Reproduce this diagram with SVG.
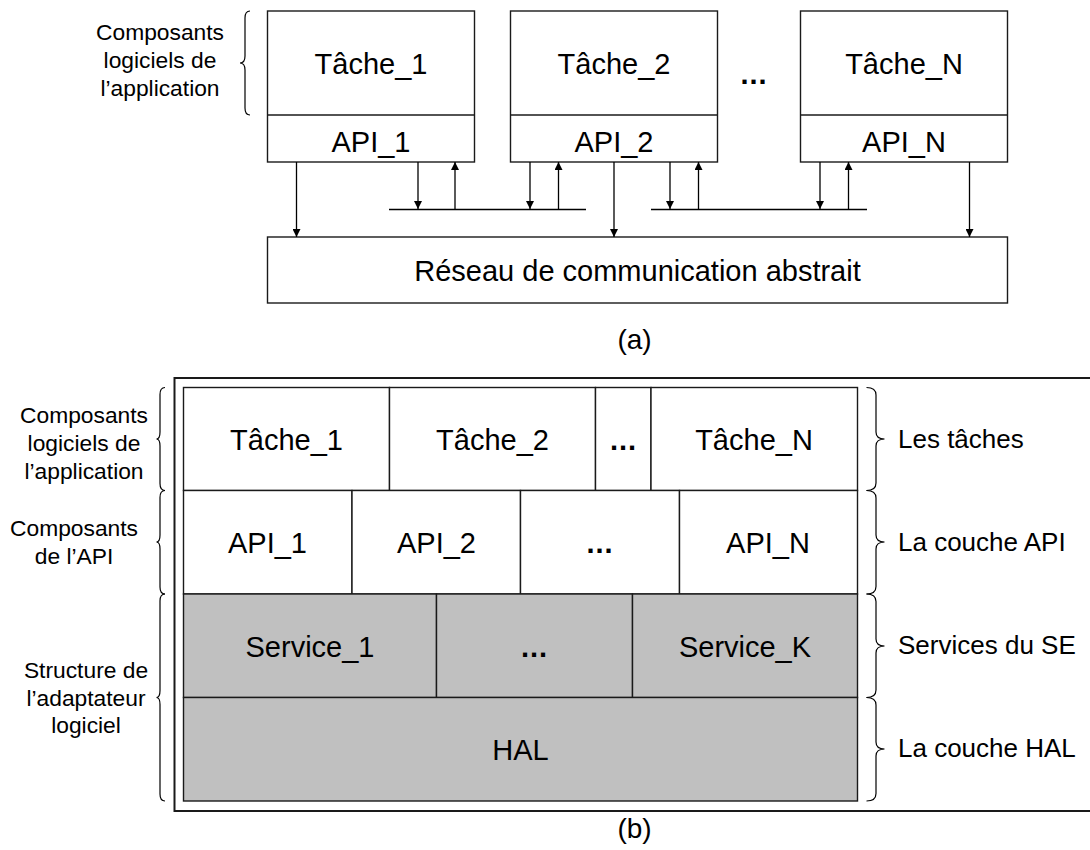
<svg xmlns="http://www.w3.org/2000/svg" width="1090" height="850" viewBox="0 0 1090 850">
<style>
text{font-family:"Liberation Sans",Arial,sans-serif;fill:#000}
.cell{fill:#fff;stroke:#1a1a1a;stroke-width:1.4}
.gray{fill:#c0c0c0;stroke:#1a1a1a;stroke-width:1.4}
.t{font-size:29px;text-anchor:middle}
.dots{font-size:29px;font-weight:bold;text-anchor:middle;letter-spacing:1px}
.lbl{font-size:22.8px;text-anchor:middle}
.rl{font-size:26px}
.cap{font-size:28px;text-anchor:middle}
.conn{stroke:#000;stroke-width:1.3;fill:none}
.brace{stroke:#000;stroke-width:1.2;fill:none}
</style>
<defs>
<marker id="ah" viewBox="0 0 10 10" refX="10" refY="5" markerWidth="9" markerHeight="8" markerUnits="userSpaceOnUse" orient="auto">
<path d="M0,0 L10,5 L0,10 Z" fill="#000"/>
</marker>
</defs>

<!-- Part (a) -->
<g id="a-label">
<text class="lbl" x="160" y="40">Composants</text>
<text class="lbl" x="160" y="68">logiciels de</text>
<text class="lbl" x="160" y="96">l’application</text>
<path class="brace" d="M250,11 Q245,11 245,18 L245,56 Q245,63 240,63 Q245,63 245,70 L245,108 Q245,115 250,115"/>
</g>
<g id="a-task1">
<rect class="cell" x="267.5" y="11" width="207" height="151"/>
<line x1="267.5" y1="115" x2="474.5" y2="115" stroke="#1a1a1a" stroke-width="1.4"/>
<text class="t" x="371" y="74">Tâche_1</text>
<text class="t" x="371" y="152">API_1</text>
</g>
<g id="a-task2">
<rect class="cell" x="510.5" y="11" width="207" height="151"/>
<line x1="510.5" y1="115" x2="717.5" y2="115" stroke="#1a1a1a" stroke-width="1.4"/>
<text class="t" x="614" y="74">Tâche_2</text>
<text class="t" x="614" y="152">API_2</text>
</g>
<g id="a-dots">
<text class="dots" x="754" y="84">...</text>
</g>
<g id="a-taskN">
<rect class="cell" x="800.5" y="11" width="207" height="151"/>
<line x1="800.5" y1="115" x2="1007.5" y2="115" stroke="#1a1a1a" stroke-width="1.4"/>
<text class="t" x="904" y="74">Tâche_N</text>
<text class="t" x="904" y="152">API_N</text>
</g>
<g id="a-network">
<rect class="cell" x="267.5" y="237" width="740" height="66"/>
<text class="t" x="637.5" y="281">Réseau de communication abstrait</text>
</g>
<g id="a-connectors">
<line class="conn" x1="389" y1="209.5" x2="586" y2="209.5"/>
<line class="conn" x1="651" y1="209.5" x2="867" y2="209.5"/>
<line class="conn" x1="296.5" y1="162" x2="296.5" y2="237" marker-end="url(#ah)"/>
<line class="conn" x1="418" y1="162" x2="418" y2="209" marker-end="url(#ah)"/>
<line class="conn" x1="455" y1="209" x2="455" y2="162" marker-end="url(#ah)"/>
<line class="conn" x1="530" y1="162" x2="530" y2="209" marker-end="url(#ah)"/>
<line class="conn" x1="558.5" y1="209" x2="558.5" y2="162" marker-end="url(#ah)"/>
<line class="conn" x1="614" y1="162" x2="614" y2="237" marker-end="url(#ah)"/>
<line class="conn" x1="670" y1="162" x2="670" y2="209" marker-end="url(#ah)"/>
<line class="conn" x1="698.5" y1="209" x2="698.5" y2="162" marker-end="url(#ah)"/>
<line class="conn" x1="820" y1="162" x2="820" y2="209" marker-end="url(#ah)"/>
<line class="conn" x1="848.5" y1="209" x2="848.5" y2="162" marker-end="url(#ah)"/>
<line class="conn" x1="969.5" y1="162" x2="969.5" y2="237" marker-end="url(#ah)"/>
</g>
<text class="cap" x="634.5" y="349">(a)</text>

<!-- Part (b) -->
<g id="b-frame">
<rect x="174.5" y="378" width="920" height="433" fill="none" stroke="#1a1a1a" stroke-width="2"/>
</g>
<g id="b-row-tasks">
<rect class="cell" x="183.5" y="387.5" width="206" height="103"/>
<text class="t" x="286.5" y="450">Tâche_1</text>
<rect class="cell" x="389.5" y="387.5" width="206" height="103"/>
<text class="t" x="492.5" y="450">Tâche_2</text>
<rect class="cell" x="595.5" y="387.5" width="55.5" height="103"/>
<text class="dots" x="623.5" y="450">...</text>
<rect class="cell" x="651" y="387.5" width="206.5" height="103"/>
<text class="t" x="754" y="450">Tâche_N</text>
</g>
<g id="b-row-api">
<rect class="cell" x="183.5" y="490.5" width="168.5" height="103.5"/>
<text class="t" x="267.5" y="553">API_1</text>
<rect class="cell" x="352" y="490.5" width="168.5" height="103.5"/>
<text class="t" x="436.5" y="553">API_2</text>
<rect class="cell" x="520.5" y="490.5" width="159" height="103.5"/>
<text class="dots" x="600" y="553">...</text>
<rect class="cell" x="679.5" y="490.5" width="178" height="103.5"/>
<text class="t" x="768" y="553">API_N</text>
</g>
<g id="b-row-services">
<rect class="gray" x="183.5" y="594" width="253" height="103.5"/>
<text class="t" x="310" y="657">Service_1</text>
<rect class="gray" x="436.5" y="594" width="196" height="103.5"/>
<text class="dots" x="534.5" y="657">...</text>
<rect class="gray" x="632.5" y="594" width="225" height="103.5"/>
<text class="t" x="745" y="657">Service_K</text>
</g>
<g id="b-row-hal">
<rect class="gray" x="183.5" y="697.5" width="674" height="103.5"/>
<text class="t" x="520.5" y="760">HAL</text>
</g>
<g id="b-left-labels">
<text class="lbl" x="84" y="422.5">Composants</text>
<text class="lbl" x="84" y="450.5">logiciels de</text>
<text class="lbl" x="84" y="478.5">l’application</text>
<path class="brace" d="M165,387.5 Q160,387.5 160,394.5 L160,432 Q160,439 156.5,439 Q160,439 160,446 L160,483.5 Q160,490.5 165,490.5"/>
<text class="lbl" x="74" y="535.5">Composants</text>
<text class="lbl" x="74" y="563.5">de l’API</text>
<path class="brace" d="M165,490.5 Q160,490.5 160,497.5 L160,535 Q160,542 156.5,542 Q160,542 160,549 L160,587 Q160,594 165,594"/>
<text class="lbl" x="86" y="678">Structure de</text>
<text class="lbl" x="86" y="705.5">l’adaptateur</text>
<text class="lbl" x="86" y="733">logiciel</text>
<path class="brace" d="M165,594 Q160,594 160,601 L160,690.5 Q160,697.5 156.5,697.5 Q160,697.5 160,704.5 L160,794 Q160,801 165,801"/>
</g>
<g id="b-right-labels">
<path class="brace" d="M866.5,387.5 Q876,387.5 876,395 L876,432 Q876,439 884.5,439 Q876,439 876,446 L876,483 Q876,490.5 866.5,490.5"/>
<text class="rl" x="898" y="448">Les tâches</text>
<path class="brace" d="M866.5,490.5 Q876,490.5 876,498 L876,535 Q876,542 884.5,542 Q876,542 876,549 L876,586.5 Q876,594 866.5,594"/>
<text class="rl" x="898" y="551">La couche API</text>
<path class="brace" d="M866.5,594 Q876,594 876,601.5 L876,639 Q876,646 884.5,646 Q876,646 876,653 L876,690 Q876,697.5 866.5,697.5"/>
<text class="rl" x="898" y="654">Services du SE</text>
<path class="brace" d="M866.5,697.5 Q876,697.5 876,705 L876,742 Q876,749 884.5,749 Q876,749 876,756 L876,793.5 Q876,801 866.5,801"/>
<text class="rl" x="898" y="757">La couche HAL</text>
</g>
<text class="cap" x="634.5" y="838">(b)</text>
</svg>
